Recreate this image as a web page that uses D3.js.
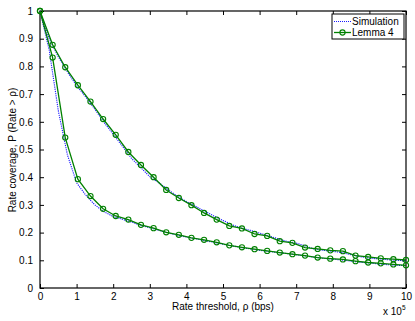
<!DOCTYPE html>
<html>
<head>
<meta charset="utf-8">
<script src="https://cdn.jsdelivr.net/npm/d3@7"></script>
<style>
  body { margin: 0; background: #fff; }
  text { font-family: "Liberation Sans", Arial, Helvetica, sans-serif; fill: #000; }
</style>
</head>
<body>
<script>
// rate coverage vs rate threshold (x in units of 1e5 bps)

var width = 415,
    height = 321;

// lemma 4 : 30 points on [0, 10]
var lemmaX = d3.range(30).map(i => i * 10 / 29);
var lemmaUpper = [1.0, 0.878, 0.797, 0.732, 0.673, 0.610, 0.553, 0.491, 0.444, 0.400,
                  0.354, 0.325, 0.299, 0.271, 0.247, 0.224, 0.215, 0.195, 0.188, 0.169,
                  0.163, 0.146, 0.141, 0.136, 0.133, 0.117, 0.112, 0.107, 0.104, 0.101];
var lemmaLower = [1.0, 0.832, 0.543, 0.393, 0.332, 0.286, 0.260, 0.247, 0.228, 0.216,
                  0.201, 0.192, 0.181, 0.174, 0.165, 0.154, 0.147, 0.140, 0.134, 0.128,
                  0.122, 0.117, 0.110, 0.106, 0.103, 0.097, 0.092, 0.089, 0.085, 0.082];

// simulation : read every 0.25
var simX = d3.range(41).map(i => i * 0.25);
var simUpper = [1.0, 0.90, 0.835, 0.78, 0.73, 0.69, 0.645, 0.598, 0.555, 0.512,
                0.468, 0.435, 0.402, 0.38, 0.355, 0.332, 0.312, 0.295, 0.277, 0.26,
                0.244, 0.228, 0.216, 0.208, 0.198, 0.188, 0.178, 0.168, 0.162, 0.152,
                0.14, 0.136, 0.132, 0.128, 0.12, 0.113, 0.108, 0.105, 0.102, 0.1, 0.098];
var simLower = [1.0, 0.86, 0.64, 0.48, 0.38, 0.335, 0.3, 0.275, 0.258, 0.248,
                0.238, 0.226, 0.218, 0.208, 0.199, 0.191, 0.184, 0.178, 0.171, 0.165,
                0.158, 0.152, 0.146, 0.141, 0.136, 0.132, 0.128, 0.124, 0.12, 0.116,
                0.111, 0.107, 0.104, 0.101, 0.097, 0.093, 0.09, 0.087, 0.084, 0.082, 0.081];

var xTicks = d3.range(0, 11);
var yTicks = d3.range(0, 11).map(i => i / 10);
var yTickLabels = ["0", "0.1", "0.2", "0.3", "0.4", "0.5", "0.6", "0.7", "0.8", "0.9", "1"];

var legendNames = ["Simulation", "Lemma 4"];

var green = "#008000",
    blue = "#1a1aff";

var x = d3.scaleLinear().domain([0, 10]).range([40, 406]);
var y = d3.scaleLinear().domain([0, 1]).range([288, 11]);

var svg = d3.select("body").append("svg")
    .attr("width", width)
    .attr("height", height);

// axes (matlab style, ticks inside, box on)
svg.append("g")
    .attr("transform", "translate(0,288)")
    .call(d3.axisBottom(x).tickValues(xTicks).tickSizeInner(-4).tickSizeOuter(0).tickPadding(5).tickFormat(d3.format("d")))
    .call(g => g.select(".domain").remove());
svg.append("g")
    .attr("transform", "translate(0,11)")
    .call(d3.axisTop(x).tickValues(xTicks).tickSizeInner(-4).tickSizeOuter(0).tickFormat(""))
    .call(g => g.select(".domain").remove());
svg.append("g")
    .attr("transform", "translate(40,0)")
    .call(d3.axisLeft(y).tickValues(yTicks).tickSizeInner(-4).tickSizeOuter(0).tickPadding(7)
        .tickFormat((d, i) => yTickLabels[i]))
    .call(g => g.select(".domain").remove());
svg.append("g")
    .attr("transform", "translate(406,0)")
    .call(d3.axisRight(y).tickValues(yTicks).tickSizeInner(-4).tickSizeOuter(0).tickFormat(""))
    .call(g => g.select(".domain").remove());

svg.selectAll(".tick text")
    .style("font-size", "10px")
    .style("font-family", "'Liberation Sans', Arial, sans-serif");
svg.selectAll(".tick line").attr("stroke", "#000");

svg.append("rect")
    .attr("x", 40).attr("y", 11)
    .attr("width", 366).attr("height", 277)
    .attr("fill", "none")
    .attr("stroke", "#000")
    .attr("stroke-width", 1.2);

// plot
var plot = svg.append("g");

var line = d3.line()
    .x(d => x(d[0]))
    .y(d => y(d[1]));

[simUpper, simLower].forEach(s => {
    plot.append("path")
        .attr("d", line(simX.map((v, i) => [v, s[i]])))
        .attr("fill", "none")
        .attr("stroke", blue)
        .attr("stroke-width", 1.1)
        .attr("stroke-dasharray", "1.2,1");
});

[lemmaUpper, lemmaLower].forEach(s => {
    var pts = lemmaX.map((v, i) => [v, s[i]]);
    plot.append("path")
        .attr("d", line(pts))
        .attr("fill", "none")
        .attr("stroke", green)
        .attr("stroke-width", 1.3);
    plot.selectAll(null)
        .data(pts)
        .enter().append("circle")
        .attr("cx", d => x(d[0]))
        .attr("cy", d => y(d[1]))
        .attr("r", 2.6)
        .attr("fill", "none")
        .attr("stroke", green)
        .attr("stroke-width", 1.1);
});

// labels
svg.append("text")
    .attr("x", 223).attr("y", 310)
    .attr("text-anchor", "middle")
    .style("font-size", "10px")
    .text("Rate threshold, ρ (bps)");

svg.append("text")
    .attr("transform", "translate(16,150) rotate(-90)")
    .attr("text-anchor", "middle")
    .style("font-size", "10px")
    .text("Rate coverage, P (Rate > ρ)");

var expo = svg.append("text")
    .attr("x", 383).attr("y", 315)
    .style("font-size", "10px");
expo.append("tspan").text("x 10");
expo.append("tspan").attr("dy", -5).style("font-size", "6.5px").text("5");

// legend
var lg = svg.append("g");
lg.append("rect")
    .attr("x", 332).attr("y", 14)
    .attr("width", 72).attr("height", 25)
    .attr("fill", "#fff")
    .attr("stroke", "#000")
    .attr("stroke-width", 1);

lg.append("line")
    .attr("x1", 334).attr("x2", 351)
    .attr("y1", 21.5).attr("y2", 21.5)
    .attr("stroke", blue)
    .attr("stroke-dasharray", "1,1");
lg.append("line")
    .attr("x1", 334).attr("x2", 351)
    .attr("y1", 32.5).attr("y2", 32.5)
    .attr("stroke", green)
    .attr("stroke-width", 1.3);
lg.append("circle")
    .attr("cx", 342.5).attr("cy", 32.5).attr("r", 2.6)
    .attr("fill", "none")
    .attr("stroke", green)
    .attr("stroke-width", 1.1);

lg.selectAll(null)
    .data(legendNames)
    .enter().append("text")
    .attr("x", 352)
    .attr("y", (d, i) => 25 + i * 11)
    .style("font-size", "10px")
    .text(d => d);
</script>
</body>
</html>
